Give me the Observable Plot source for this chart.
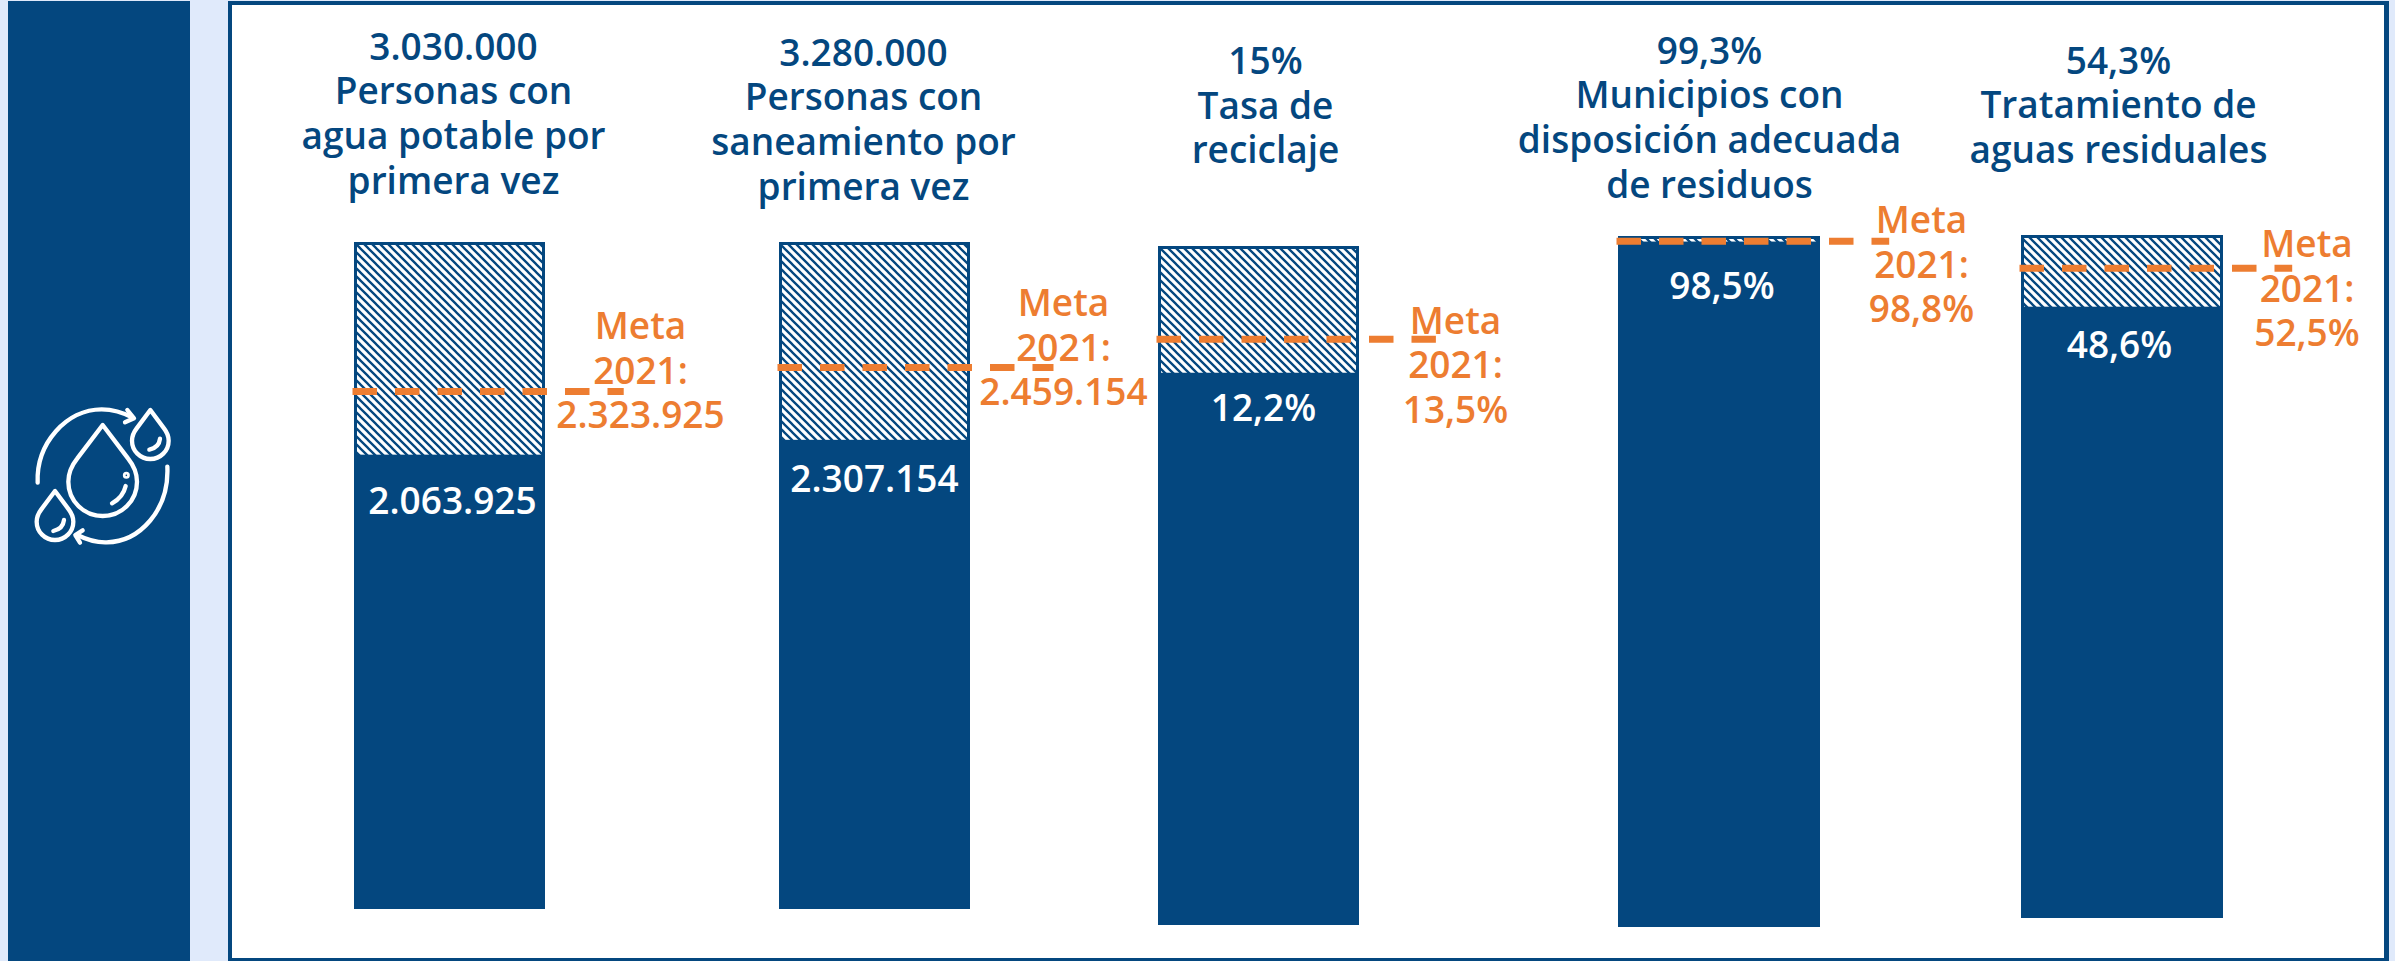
<!DOCTYPE html>
<html lang="es">
<head>
<meta charset="utf-8">
<script src="https://cdn.jsdelivr.net/npm/d3@7"></script>
<script src="https://cdn.jsdelivr.net/npm/@observablehq/plot@0.6"></script>
<style>
  html, body { margin: 0; padding: 0; background: #E0EAFB; }
  #page { position: relative; width: 2395px; height: 961px; overflow: hidden; background: #E0EAFB; }
  #side { position: absolute; left: 8px; top: 1px; width: 182px; height: 960px; background: #04477F; }
  #frame { position: absolute; left: 228px; top: 1px; width: 2152px; height: 953px; background: #fff; border: 4px solid #04477F; border-right-width: 5px; }
  #icon { position: absolute; left: 0; top: 380px; }
  #plots svg { position: absolute; left: 0; top: 0; background: transparent; }
</style>
</head>
<body>
<div id="page">
  <div id="side"></div>
  <div id="frame"></div>
  <svg id="icon" width="220" height="180" viewBox="0 0 660 540" fill="none" stroke="#fff" stroke-width="13" stroke-linecap="round" stroke-linejoin="round">
    <path d="M308 135 L232 235 C212 260 205 280 205 305 A103 103 0 0 0 411 305 C411 280 404 260 384 235 Z"/>
    <circle cx="379" cy="286" r="4" />
    <path d="M377 318 C372 340 358 358 336 370"/>
    <path d="M451 90 L410 145 C400 158 396 168 396 182 A55 55 0 0 0 506 182 C506 168 502 158 492 145 Z"/>
    <path d="M480 176 C478 194 466 205 448 209"/>
    <path d="M165 333 L124 388 C114 401 110 411 110 425 A55 55 0 0 0 220 425 C220 411 216 401 206 388 Z"/>
    <path d="M192 420 C190 438 178 449 160 453"/>
    <path d="M113 308 C108 190 200 88 305 88 C335 88 365 95 398 113"/>
    <path d="M382 90 L402 115 L375 127"/>
    <path d="M502 260 C508 390 420 485 320 487 C290 488 262 480 232 465"/>
    <path d="M248 451 L226 465 L240 488"/>
  </svg>
  <div id="plots"></div>
</div>
<script>
// Data
const titles = [
  "3.030.000\nPersonas con\nagua potable por\nprimera vez",
  "3.280.000\nPersonas con\nsaneamiento por\nprimera vez",
  "15%\nTasa de\nreciclaje",
  "99,3%\nMunicipios con\ndisposición adecuada\nde residuos",
  "54,3%\nTratamiento de\naguas residuales"
];
const goals = [3030000, 3280000, 15, 99.3, 54.3];
const achieved = [2063925, 2307154, 12.2, 98.5, 48.6];
const achievedLabels = ["2.063.925", "2.307.154", "12,2%", "98,5%", "48,6%"];
const metaLabels = ["2.323.925", "2.459.154", "13,5%", "98,8%", "52,5%"];
// Level at which each dashed line is drawn in the picture (not quite the labelled target)
const metaLevels = [2353000, 2665000, 12.95, 98.6, 51.7];
// How far each dashed line runs, in bar widths from the bar's left edge
const metaLineEnds = [1.42, 1.445, 1.39, 1.35, 1.35];

// Layout of each small chart, in page pixels
const barLeft = [354, 779, 1158, 1618, 2021];
const barRight = [545, 970, 1359, 1820, 2223];
const barTop = [242, 242, 246, 236, 235];
const barBottom = [909, 909, 925, 927, 918];
const titleCx = [453, 863, 1265, 1709, 2118];
const titleCy = [112, 118, 104, 116, 103.5];
const valueCx = [452, 874, 1263, 1721.5, 2119];
const valueCy = [502, 480, 409, 287, 346];
const metaCx = [640, 1063, 1455, 1921, 2306.5];
const metaCy = [369, 346, 363.5, 263, 287];

const navy = "#04477F";
const orange = "#ED7D31";
const font = "'Open Sans', 'Noto Sans', sans-serif";
const fontSize = 37;
const lh = 44.6 / fontSize;

const hatchDefs = () => {
  const ns = "http://www.w3.org/2000/svg";
  const defs = document.createElementNS(ns, "defs");
  defs.innerHTML = `<pattern id="hatch" patternUnits="userSpaceOnUse" width="8" height="8">
    <rect width="8" height="8" fill="#fff"/>
    <path d="M-2,-2 L10,10 M-2,6 L2,10 M6,-2 L10,2" stroke="${navy}" stroke-width="2.3" fill="none"/>
  </pattern>`;
  return defs;
};

const host = document.getElementById("plots");
goals.forEach((goal, i) => {
  const barCx = (barLeft[i] + barRight[i]) / 2;
  const chart = Plot.plot({
    width: 2395,
    height: 961,
    marginLeft: barLeft[i],
    marginRight: 2395 - barRight[i],
    marginTop: barTop[i],
    marginBottom: 961 - barBottom[i],
    x: {domain: [0, 1], axis: null},
    y: {domain: [0, goal], axis: null},
    style: {background: "transparent", overflow: "visible"},
    marks: [
      hatchDefs,
      Plot.rectY([goal], {x1: 0, x2: 1, y1: 0, y2: d => d, fill: "url(#hatch)", stroke: navy, strokeWidth: 3, inset: 1.5}),
      Plot.rectY([achieved[i]], {x1: 0, x2: 1, y1: 0, y2: d => d, fill: navy}),
      Plot.text([titles[i]], {
        x: 0.5, y: goal, text: d => d, fill: navy, fontFamily: font, fontWeight: 600, fontSize,
        lineHeight: lh, lineAnchor: "middle", textAnchor: "middle",
        dx: titleCx[i] - barCx, dy: titleCy[i] - barTop[i]
      }),
      Plot.text([achievedLabels[i]], {
        x: 0.5, y: goal, text: d => d, fill: "#fff", fontFamily: font, fontWeight: 600, fontSize,
        lineAnchor: "middle", textAnchor: "middle",
        dx: valueCx[i] - barCx, dy: valueCy[i] - barTop[i]
      }),
      Plot.text(["Meta\n2021:\n" + metaLabels[i]], {
        x: 0.5, y: goal, text: d => d, fill: orange, fontFamily: font, fontWeight: 600, fontSize,
        lineHeight: lh, lineAnchor: "middle", textAnchor: "middle",
        dx: metaCx[i] - barCx, dy: metaCy[i] - barTop[i]
      }),
      Plot.ruleY([metaLevels[i]], {x1: 0, x2: metaLineEnds[i], stroke: orange, strokeWidth: 7, strokeDasharray: "24.5,18", dx: -1.5})
    ]
  });
  host.appendChild(chart);
});
</script>
</body>
</html>
